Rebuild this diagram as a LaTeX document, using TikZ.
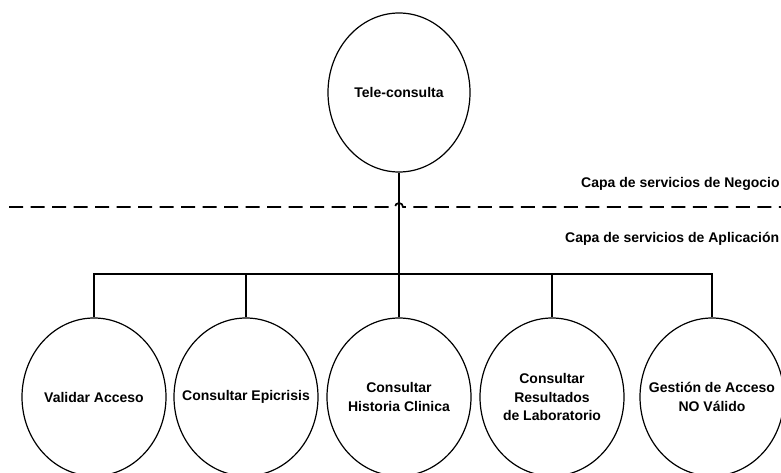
\documentclass[tikz,border=0pt]{standalone}
\usepackage{fontspec}
\setmainfont{Liberation Sans}
\usetikzlibrary{shapes.geometric}
\begin{document}
\begin{tikzpicture}[x=1pt,y=-1pt,
  svc/.style={ellipse,draw,line width=1.2pt,minimum width=144pt,minimum height=158pt,inner sep=0pt},
  txt/.style={align=center,inner sep=0pt,font=\fontsize{14}{18.5}\selectfont\bfseries},
  conn/.style={line width=1.2pt},
  layer/.style={anchor=west,inner sep=0pt,font=\fontsize{14}{16}\selectfont\bfseries},
  sep/.style={line width=1.7pt,dash pattern=on 14pt off 7.5pt}]
\useasboundingbox (0,0) rectangle (781,473);
\node[svc,minimum width=142pt,minimum height=159pt,label={[txt]center:Tele-consulta}] (top) at (399,92.5) {};
\node[svc,label={[txt]center:Validar Acceso}] (va) at (94,397) {};
\node[svc,label={[txt]center:Consultar Epicrisis}] (ep) at (246,397) {};
\node[svc,label={[txt]center:{Consultar\\Historia Clinica}}] (hc) at (399,397) {};
\node[svc,label={[txt]center:{Consultar\\Resultados\\de Laboratorio}}] (rl) at (552,397) {};
\node[svc,label={[txt]center:{Gestión de Acceso\\NO Válido}}] (ga) at (712,397) {};
\coordinate (bus) at (399,274);
\draw[conn] (top.south) -- (bus);
\foreach \c in {va,ep,hc,rl,ga} \draw[conn] (bus) -| (\c.north);
\coordinate (sepL) at (9,207);
\coordinate (sepR) at (781,207);
\draw[sep] (sepL) -- (395,207) arc[start angle=180,end angle=360,radius=4] -- (sepR);
\node[layer] (neg) at (581,184) {Capa de servicios de Negocio};
\node[layer] (apl) at (565,238.5) {Capa de servicios de Aplicación};
\end{tikzpicture}
\end{document}
